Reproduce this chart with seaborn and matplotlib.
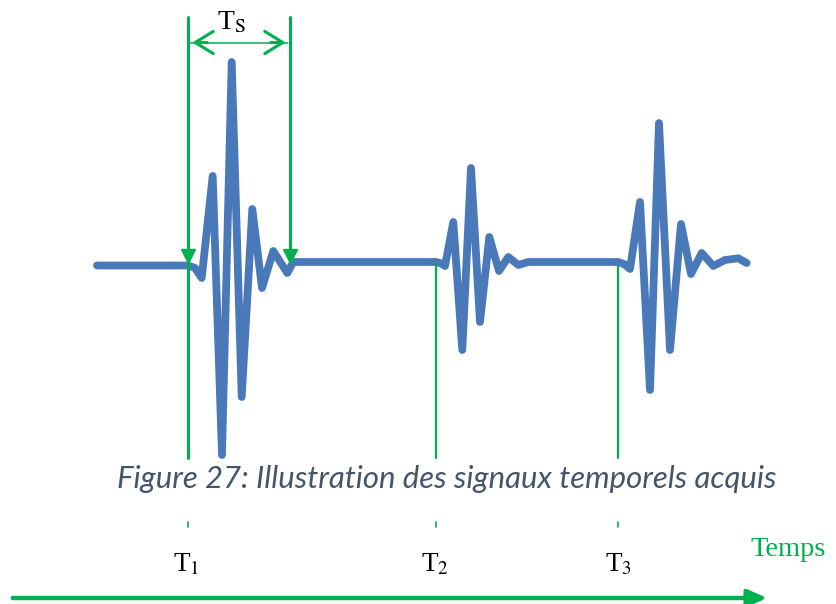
import matplotlib
matplotlib.use("Agg")
import matplotlib.pyplot as plt
import seaborn as sns
import pandas as pd

# signal (x = time in px, y = height in px, down is positive)
sig_t = [97, 188, 195, 201.7, 212.7, 222, 231.7, 241.7, 252.3, 262, 273.3, 287.3, 293.3,
         436, 440, 445, 453.3, 462.3, 471, 480, 489.3, 499, 508.3, 518.3, 528.3,
         618.3, 624, 630, 640, 650, 659, 670, 681, 691, 701.7, 713.3, 725, 738.3, 746.7]
sig_y = [265.5, 265.5, 268, 278, 176, 455, 62, 397, 209, 288, 251, 273, 262,
         262, 263, 266, 222, 350, 168, 322, 237, 271, 257, 265, 262,
         262, 264, 269, 202, 390, 123, 350, 224, 274, 253, 266, 260, 258.3, 263]

t_marks = [188, 436, 618]
t_labels = ["T$_1$", "T$_2$", "T$_3$"]
t_label_x = [173, 421, 605]
ts_end = 290
caption = "Figure 27: Illustration des signaux temporels acquis"

green = "#00b050"
blue = "#4a79ba"

sns.set_style("white")
plt.rcParams["mathtext.fontset"] = "stix"

fig = plt.figure(figsize=(8.36, 6.04), dpi=100)
ax = fig.add_axes([0, 0, 1, 1])
ax.set_xlim(0, 836)
ax.set_ylim(604, 0)
ax.axis("off")

df = pd.DataFrame({"t": sig_t, "y": sig_y})
sns.lineplot(data=df, x="t", y="y", sort=False, ax=ax, color=blue, lw=5.6,
             solid_joinstyle="round", solid_capstyle="round", zorder=2)

# vertical marker lines
ax.plot([t_marks[0], t_marks[0]], [17, 458], color=green, lw=2.2, zorder=3)
ax.plot([ts_end, ts_end], [17, 256], color=green, lw=2.2, zorder=3)
ax.plot([t_marks[1], t_marks[1]], [264, 458], color=green, lw=1.6, zorder=3)
ax.plot([t_marks[2], t_marks[2]], [266, 458], color=green, lw=1.6, zorder=3)
ax.plot([t_marks[0], ts_end], [256, 256], ls="none", marker="v", ms=10,
        color=green, zorder=4)
for xm in t_marks:
    ax.plot([xm, xm], [522, 527], color=green, lw=1.2)

# Ts double arrow
ax.plot([t_marks[0] + 2, ts_end - 2], [42.5, 42.5], color=green, lw=1.1)
ax.annotate("", xy=(t_marks[0] + 1.5, 42.5), xytext=(t_marks[0] + 22, 42.5),
            arrowprops=dict(arrowstyle="->, head_length=1.3, head_width=0.8",
                            color=green, lw=2.2))
ax.annotate("", xy=(ts_end - 1.5, 42.5), xytext=(ts_end - 22, 42.5),
            arrowprops=dict(arrowstyle="->, head_length=1.3, head_width=0.8",
                            color=green, lw=2.2))
ax.text(217, 29.5, r"T$_\mathrm{S}$", ha="left", va="baseline",
        fontsize=20, family="Liberation Serif", color="black")

# caption
ax.text(117, 488, caption, ha="left", va="baseline", fontsize=22.4,
        family="Lato", style="italic", color="#44546a")

# time labels
for xl, lab in zip(t_label_x, t_labels):
    ax.text(xl, 571.5, lab, ha="left", va="baseline", fontsize=19.5,
            family="Liberation Serif", color="black")
ax.text(750, 556.5, "Temps", ha="left", va="baseline", fontsize=20.5,
        family="Liberation Serif", color=green)

# time axis arrow
ax.annotate("", xy=(770, 598), xytext=(10, 598),
            arrowprops=dict(arrowstyle="-|>, head_length=1.15, head_width=0.5",
                            color=green, lw=3.2))

fig.savefig("out.png", dpi=100)
